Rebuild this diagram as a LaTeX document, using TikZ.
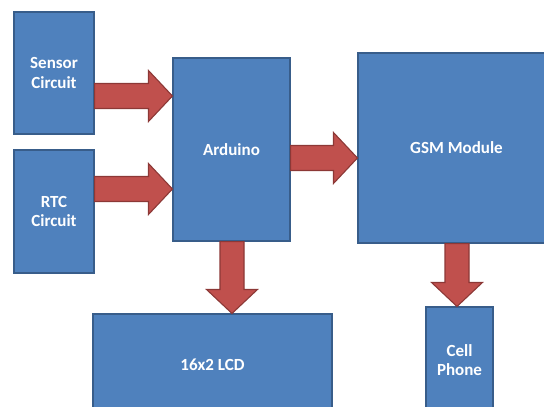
\documentclass[tikz,border=0pt]{standalone}
\usepackage{fontspec}
\setmainfont{Carlito}
\usetikzlibrary{calc}
\definecolor{boxfill}{HTML}{4F81BD}
\definecolor{boxline}{HTML}{385D8A}
\definecolor{arrfill}{HTML}{C0504D}
\definecolor{arrline}{HTML}{8C3836}
\tikzset{
  block/.style={draw=boxline, fill=boxfill, line width=1.1pt, inner sep=0pt,
    text=white, font=\fontsize{17}{19.5}\selectfont\bfseries, align=center},
  barrow/.style={draw=arrline, fill=arrfill, line width=1.1pt, line join=miter}
}
% horizontal block arrow from #1 to #2 (same y)
\newcommand\hbarrow[2]{%
  \draw[barrow] let \p1=(#1), \p2=(#2) in
    (\x1,\y1+12.5pt) -- (\x2-24pt,\y1+12.5pt) -- (\x2-24pt,\y1+25.5pt) -- (\x2,\y1)
    -- (\x2-24pt,\y1-25.5pt) -- (\x2-24pt,\y1-12.5pt) -- (\x1,\y1-12.5pt) -- cycle;}
% vertical (downward) block arrow from #1 to #2 (same x)
\newcommand\vbarrow[2]{%
  \draw[barrow] let \p1=(#1), \p2=(#2) in
    (\x1-12pt,\y1) -- (\x1-12pt,\y2+24pt) -- (\x1-25.5pt,\y2+24pt) -- (\x1,\y2)
    -- (\x1+25.5pt,\y2+24pt) -- (\x1+12pt,\y2+24pt) -- (\x1+12pt,\y1) -- cycle;}
\begin{document}
\begin{tikzpicture}[x=1pt,y=-1pt]
\useasboundingbox (0,0) rectangle (544,407);
\clip (0,0) rectangle (544,407);
\node[block, minimum width=80pt, minimum height=122pt] (sensor) at (54,73) {Sensor\\Circuit};
\node[block, minimum width=80pt, minimum height=123pt] (rtc) at (54,211.5) {RTC\\Circuit};
\node[block, minimum width=117pt, minimum height=183pt] (arduino) at (231.5,149.5) {Arduino};
\node[block, minimum width=197pt, minimum height=190pt] (gsm) at (456.5,148) {GSM Module};
\node[block, minimum width=239pt, minimum height=102pt] (lcd) at (212.5,365) {16x2 LCD};
\node[block, minimum width=67pt, minimum height=106pt] (phone) at (459.5,360) {Cell\\Phone};
\coordinate (s1) at (sensor.east |- 0,96);
\coordinate (s2) at (arduino.west |- 0,96);
\coordinate (r1) at (rtc.east |- 0,189);
\coordinate (r2) at (arduino.west |- 0,189);
\coordinate (a1) at (arduino.east |- 0,158);
\coordinate (a2) at (gsm.west |- 0,158);
\coordinate (d1) at (arduino.south -| 232,0);
\coordinate (d2) at (lcd.north -| 232,0);
\coordinate (g1) at (gsm.south -| 457,0);
\coordinate (g2) at (phone.north -| 457,0);
\hbarrow{s1}{s2}
\hbarrow{r1}{r2}
\hbarrow{a1}{a2}
\vbarrow{d1}{d2}
\vbarrow{g1}{g2}
\end{tikzpicture}
\end{document}
